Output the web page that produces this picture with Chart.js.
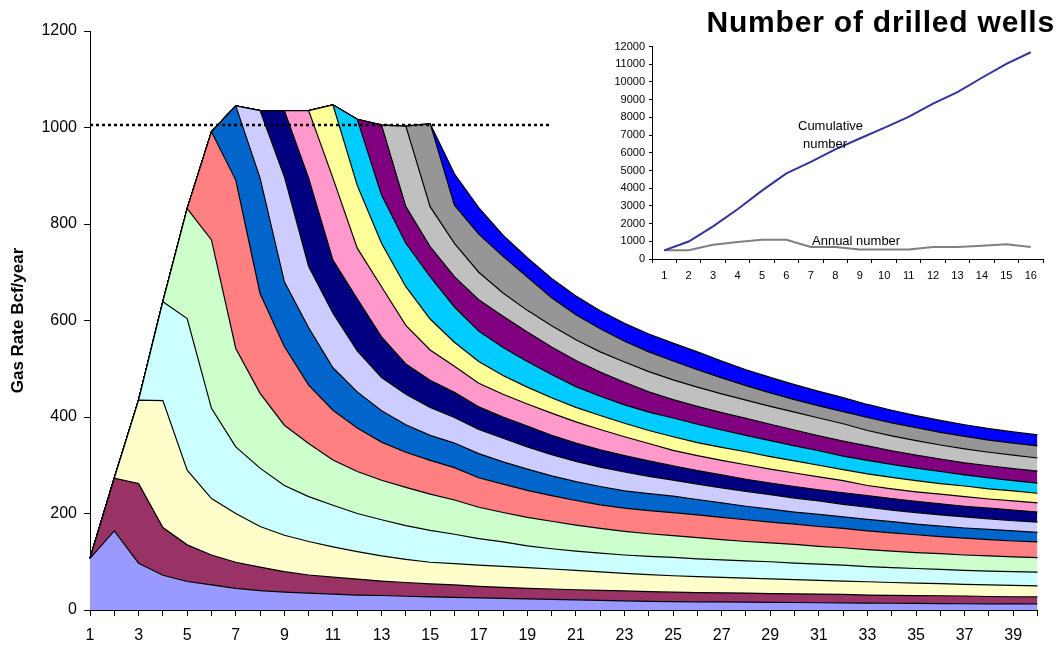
<!DOCTYPE html>
<html>
<head>
<meta charset="utf-8">
<title>Gas rate by well cohort</title>
<script src="https://cdn.jsdelivr.net/npm/chart.js@4/dist/chart.umd.min.js"></script>
<style>
  html, body { margin: 0; padding: 0; background: #fff; }
  #wrap { position: relative; width: 1059px; height: 649px; overflow: hidden;
          font-family: 'Liberation Sans', Arial, sans-serif; color: #000; }
  #main  { position: absolute; left: 0; top: 0; }
  #inset { position: absolute; left: 590px; top: 36px; }
  #title { position: absolute; right: 4px; top: 7px; font-size: 30px; line-height: 30px;
           font-weight: bold; letter-spacing: 0.8px; white-space: nowrap; }
  .note  { position: absolute; font-size: 13px; line-height: 13px; white-space: nowrap; }
</style>
</head>
<body>
<div id="wrap">
  <canvas id="main" width="1059" height="649"></canvas>
  <canvas id="inset" width="469" height="259"></canvas>
  <div id="title">Number of drilled wells</div>
  <div class="note" style="left:798px; top:119px;">Cumulative</div>
  <div class="note" style="left:803px; top:137px;">number</div>
  <div class="note" style="left:812px; top:234px;">Annual number</div>
</div>
<script>
// Production years on the main axis
const years = ['1','2','3','4','5','6','7','8','9','10','11','12','13','14','15','16','17','18','19','20',
               '21','22','23','24','25','26','27','28','29','30','31','32','33','34','35','36','37','38','39','40'];

// Gas rate (Bcf/year) contributed by the wells drilled in each year
const cohort01 = [107,164,97,72,59,52,45,40,37,35,33,31,30,28.5,27,26,25,24,23,22,21,20,19,18,17.3,17,16.8,16.5,16,15.5,15,14.8,14.3,14,13.6,13.3,13,12.8,12.6,12.4];
const cohort02 = [0,109,165,99,76,62,54,49,42.5,37.5,35,33,30,28.5,27,26,24,23,22,21.5,21,20.5,20.5,20,19.7,19,18.7,18.5,18,18,18,17.7,16.7,16.5,16.4,16.2,16,15.2,14.9,14.6];
const cohort03 = [0,0,173,263,155,117,101,84,75.5,69.5,63,57,52,48,45,44,44,43.5,43,41.5,40,38.5,36.5,35.5,34,33,32,31,30.5,29.5,28.5,27.5,27.5,26.5,25.5,25,24,24,23.5,23];
const cohort04 = [0,0,0,205,314,187,138,121,103,93,86,79,75,70,66,61,55,50.5,45,42,40,39,38,37.5,38,37,36.5,36,35.5,34,33.5,33,31.5,31,30.5,29.5,29,28.5,28.5,28.5];
const cohort05 = [0,0,0,0,228,349,204,155,125,110,94,87,82,79,75,71,65,61,59,57,54,51,49,47,45,44,42,40,39,39,37,36,35,34,33,33,32,31.5,30.5,30];
const cohort06 = [0,0,0,0,0,224,349,207,163,121,103,90,79,73,70,67,61,59,56,53,51,49,48,48,48,47,46,45,43,42,41,40,39,38,37,35,35,34,33,32.5];
const cohort07 = [0,0,0,0,0,0,154,239,134,119,88,75,65,57,52,51,50,46,44,41,39,38,36,35,34,32,30,28,27,25,25,24,24,23,22,22,21,21,21,20];
const cohort08 = [0,0,0,0,0,0,0,140,218,127,113,85,69,63,58,53,50,49,46,44,42,40,39,36,33,32,31,31,30,29,28,26,25,24,24,23,23,22,21,21];
const cohort09 = [0,0,0,0,0,0,0,0,137,183,110,108,84,63,56,52,47,44,43,40,38,36,34,32,30,28,27,25,24,24,23,24,24,24,23,23,22,22,22,21];
const cohort10 = [0,0,0,0,0,0,0,0,0,140,170,105,104,80,63,54,49,47,46,46,44,42,39,36,32,31,30,30,29,28,27,25,21,20,20,20,20,19,19,19];
const cohort11 = [0,0,0,0,0,0,0,0,0,0,152,130,90,80,64,50,45,39,35,32,30,29,28,27,28,27,27,27,26,25,24,23,24,24,23,22,22,21,21,20];
const cohort12 = [0,0,0,0,0,0,0,0,0,0,0,137,100,90,88,73,63,58,53,48,43,40,38,38,39,38,36,34,33,31,30,28,28,27,26,25,23,23,21,21];
const cohort13 = [0,0,0,0,0,0,0,0,0,0,0,0,145,76,62,63,65,65,61,57,54,50,47,42,38,37,36,35,34,33,31,31,30,28,27,26,25,25,25,25];
const cohort14 = [0,0,0,0,0,0,0,0,0,0,0,0,0,167,83,69,57,48,45,44,43,42,42,42,41,40,39,38,37,37,37,36,32,31,30,29,29,28,28,27];
const cohort15 = [0,0,0,0,0,0,0,0,0,0,0,0,0,0,172,79,79,76,69,58,52,48,43,41,39,36,33,30,28,26,25,25,27,27,27,26,26,25,25,25];
const cohort16 = [0,0,0,0,0,0,0,0,0,0,0,0,0,0,0,65,55,44,40,40,39,37,37,37,37,37,35,33,32,31,30,29,27,26,25,25,24,24,23,23];

// Plateau target drawn as a dotted reference line
const plateauTarget = [1005,1005,1005,1005,1005,1005,1005,1005,1005,1005,1005,1005,1005,1005,1005,1005,1005,1005,1005,1005,
                       null,null,null,null,null,null,null,null,null,null,null,null,null,null,null,null,null,null,null,null];

// Drilling programme shown in the small chart
const wellYears = ['1','2','3','4','5','6','7','8','9','10','11','12','13','14','15','16'];
const cumulativeWells = [490,990,1840,2810,3860,4840,5490,6190,6810,7410,8030,8780,9430,10240,11030,11680];
const annualWells = [490,490,810,960,1090,1090,680,680,530,530,530,680,680,750,830,680];

const cohorts = [cohort01,cohort02,cohort03,cohort04,cohort05,cohort06,cohort07,cohort08,
                 cohort09,cohort10,cohort11,cohort12,cohort13,cohort14,cohort15,cohort16];
const cohortColors = ['#9999FF','#993366','#FFFFCC','#CCFFFF','#CCFFCC','#FF8080','#0066CC','#CCCCFF',
                      '#000080','#FF99CC','#FFFF99','#00CCFF','#800080','#C0C0C0','#969696','#0000FF'];

Chart.defaults.font.family = "'Liberation Sans', Arial, sans-serif";
Chart.defaults.color = '#000';

// Plain integer tick text (no thousands separator)
const plainNumber = (value) => String(value);

const areaSets = cohorts.map((values, i) => ({
  label: 'Wells of year ' + (i + 1),
  data: values,
  backgroundColor: cohortColors[i],
  borderColor: '#000',
  borderWidth: 1.2,
  fill: i === 0 ? 'origin' : '-1',
  pointRadius: 0,
  pointHoverRadius: 0,
  tension: 0,
  stack: 'rate'
}));
areaSets.push({
  label: 'Plateau',
  data: plateauTarget,
  borderColor: '#000',
  borderWidth: 2.5,
  borderDash: [3, 3],
  fill: false,
  pointRadius: 0,
  tension: 0,
  stack: 'target',
  order: -1
});

new Chart(document.getElementById('main'), {
  type: 'line',
  data: { labels: years, datasets: areaSets },
  options: {
    responsive: false,
    animation: false,
    devicePixelRatio: 1,
    layout: { padding: { top: 31, right: 21.5, left: 0, bottom: 0 } },
    plugins: { legend: { display: false }, tooltip: { enabled: false } },
    scales: {
      x: {
        type: 'category',
        offset: false,
        grid: { drawOnChartArea: false, drawTicks: true, tickLength: 6, color: '#000', lineWidth: 1 },
        border: { display: true, color: '#000', width: 1 },
        ticks: {
          autoSkip: false, maxRotation: 0, minRotation: 0, padding: 10,
          font: { size: 16 }, color: '#000',
          callback: function (value, index) { return index % 2 === 0 ? this.getLabelForValue(value) : ''; }
        },
        afterFit: (scale) => { scale.height = 39; }
      },
      y: {
        stacked: true,
        min: 0, max: 1200,
        ticks: { stepSize: 200, padding: 7, font: { size: 16 }, color: '#000', callback: plainNumber },
        grid: { drawOnChartArea: false, drawTicks: true, tickLength: 6, color: '#000' },
        border: { display: true, color: '#000', width: 1 },
        title: { display: true, text: 'Gas Rate Bcf/year', color: '#000',
                 font: { size: 17, weight: 'bold' }, padding: { top: 8, bottom: 0 } },
        afterFit: (scale) => { scale.width = 90; }
      }
    }
  }
});

new Chart(document.getElementById('inset'), {
  type: 'line',
  data: {
    labels: wellYears,
    datasets: [
      { label: 'Cumulative number', data: cumulativeWells, borderColor: '#333399', borderWidth: 2,
        pointRadius: 0, fill: false, tension: 0 },
      { label: 'Annual number', data: annualWells, borderColor: '#808080', borderWidth: 2,
        pointRadius: 0, fill: false, tension: 0 }
    ]
  },
  options: {
    responsive: false,
    animation: false,
    devicePixelRatio: 1,
    layout: { padding: { top: 10, right: 16, left: 0, bottom: 0 } },
    plugins: { legend: { display: false }, tooltip: { enabled: false } },
    scales: {
      x: {
        offset: true,
        grid: { offset: true, drawOnChartArea: false, tickLength: 4, color: '#000' },
        border: { display: true, color: '#000' },
        ticks: { autoSkip: false, maxRotation: 0, minRotation: 0, padding: 6, font: { size: 11 }, color: '#000' },
        afterFit: (scale) => { scale.height = 36; }
      },
      y: {
        min: 0, max: 12000,
        ticks: { stepSize: 1000, padding: 4, font: { size: 11 }, color: '#000', callback: plainNumber },
        grid: { drawOnChartArea: false, tickLength: 3, color: '#000' },
        border: { display: true, color: '#000' },
        afterFit: (scale) => { scale.width = 62; }
      }
    }
  }
});
</script>
</body>
</html>
